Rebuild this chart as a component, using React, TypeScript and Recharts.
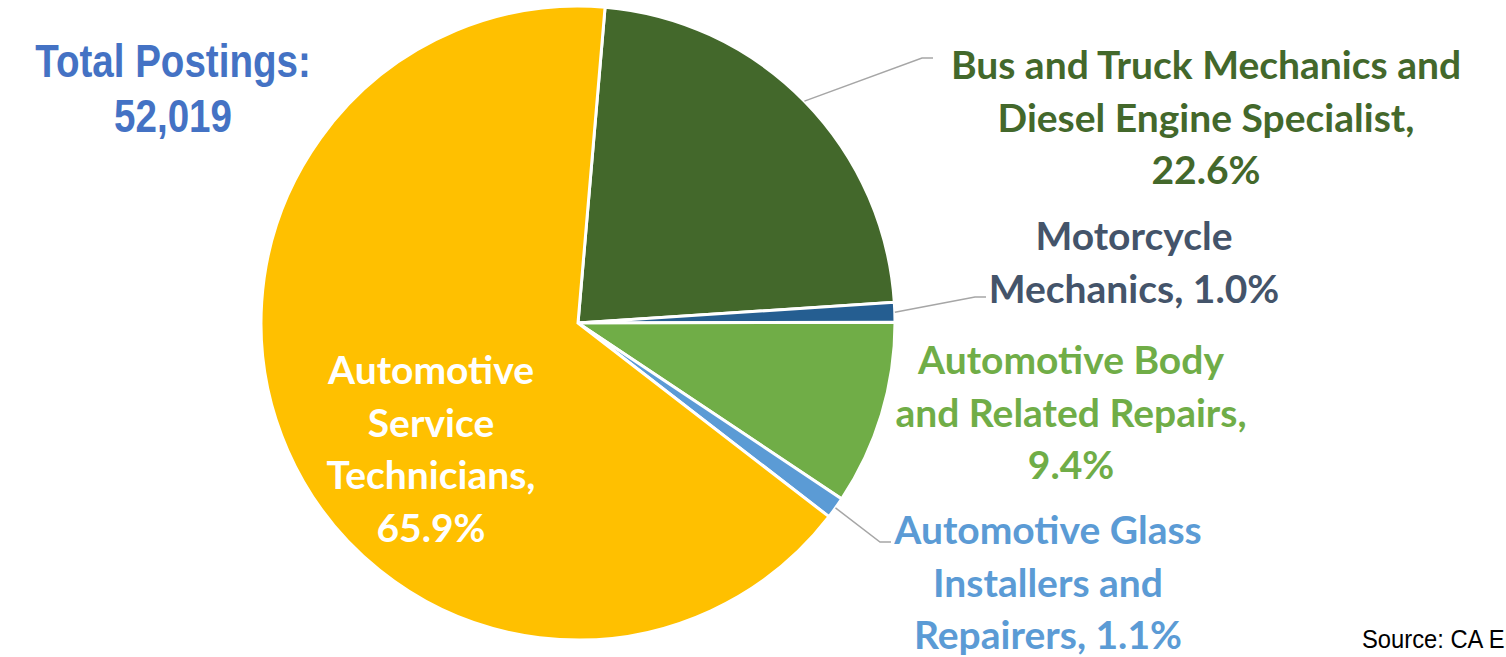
import React from "react";
import { PieChart, Pie, Cell } from "recharts";

// slices in clockwise order, starting just right of 12 o'clock
const categories = [
  "Bus and Truck Mechanics and Diesel Engine Specialist",
  "Motorcycle Mechanics",
  "Automotive Body and Related Repairs",
  "Automotive Glass Installers and Repairers",
  "Automotive Service Technicians",
];
const shares = [22.6, 1.0, 9.4, 1.1, 65.9];
const nameLines = [
  ["Bus and Truck Mechanics and", "Diesel Engine Specialist"],
  ["Motorcycle", "Mechanics"],
  ["Automotive Body", "and Related Repairs"],
  ["Automotive Glass", "Installers and", "Repairers"],
  ["Automotive", "Service", "Technicians"],
];
const pctOnOwnLine = [true, false, true, false, true];
const totalPostings = 52019;

const SLICE_COLORS = ["#43682B", "#255E91", "#70AD47", "#5B9BD5", "#FFC000"];
const LABEL_COLORS = ["#43682B", "#44546A", "#70AD47", "#5B9BD5", "#FFFFFF"];

// label placement relative to pie centre; elbow = leader line bend point
const LABEL_LAYOUT = [
  { dx: 628, dy: -259, elbow: [344, -265] },
  { dx: 556, dy: -88, elbow: [397, -26] },
  { dx: 493, dy: 36, elbow: null },
  { dx: 470, dy: 206, elbow: [302, 219] },
  { dx: -147, dy: 46, elbow: null },
];
const LINE_H = 52.5;
const RAD = Math.PI / 180;

const data = categories.map((name, i) => ({ name, value: shares[i] }));

function labelLinesFor(i: number) {
  const names = nameLines[i];
  const pct = `${shares[i].toFixed(1)}%`;
  const head = names.slice(0, -1);
  const last = names[names.length - 1];
  return pctOnOwnLine[i] ? [...head, last + ",", pct] : [...head, `${last}, ${pct}`];
}

function renderLabel(props: any) {
  const { cx, cy, midAngle, outerRadius, index } = props;
  const lay = LABEL_LAYOUT[index];
  const lines = labelLinesFor(index);
  const x = cx + lay.dx;
  let leader = null;
  if (lay.elbow) {
    const sx = cx + outerRadius * Math.cos(-midAngle * RAD);
    const sy = cy + outerRadius * Math.sin(-midAngle * RAD);
    const ex = cx + lay.elbow[0];
    const ey = cy + lay.elbow[1];
    leader = (
      <polyline
        points={`${sx},${sy} ${ex},${ey} ${ex + 11},${ey}`}
        fill="none"
        stroke="#A6A6A6"
        strokeWidth={1.5}
      />
    );
  }
  return (
    <g key={`lbl-${index}`}>
      {leader}
      {lines.map((ln, k) => (
        <text
          key={k}
          x={x}
          y={cy + lay.dy + k * LINE_H}
          textAnchor="middle"
          dominantBaseline="central"
          fill={LABEL_COLORS[index]}
          fontFamily="Lato, 'Open Sans', sans-serif"
          fontWeight={700}
          fontSize={39}
        >
          {ln}
        </text>
      ))}
    </g>
  );
}

export default function App() {
  return (
    <div
      style={{
        position: "absolute",
        left: 0,
        top: 0,
        width: 1506,
        height: 657,
        overflow: "hidden",
        background: "#fff",
      }}
    >
      <PieChart width={1506} height={657} margin={{ top: 0, right: 0, bottom: 0, left: 0 }}>
        <Pie
          data={data}
          dataKey="value"
          nameKey="name"
          cx={578}
          cy={323}
          outerRadius={317}
          startAngle={85.1}
          endAngle={-274.9}
          stroke="#FFFFFF"
          strokeWidth={3}
          label={renderLabel}
          labelLine={false}
          isAnimationActive={false}
        >
          {data.map((entry, index) => (
            <Cell key={`cell-${index}`} fill={SLICE_COLORS[index]} />
          ))}
        </Pie>
      </PieChart>

      {/* total postings callout, top left (narrow bold face squeezed horizontally) */}
      <div
        style={{
          position: "absolute",
          left: -27,
          top: 33,
          width: 400,
          whiteSpace: "nowrap",
          textAlign: "center",
          color: "#4472C4",
          fontFamily: "'Liberation Sans', Arial, sans-serif",
          fontWeight: 700,
          fontSize: 47,
          lineHeight: "55px",
          transform: "scaleX(0.82)",
          transformOrigin: "200px 0",
        }}
      >
        <div>Total Postings:</div>
        <div>{totalPostings.toLocaleString("en-US")}</div>
      </div>

      <div
        style={{
          position: "absolute",
          left: 1362,
          top: 625,
          whiteSpace: "nowrap",
          color: "#000",
          fontFamily: "'Liberation Sans', Arial, sans-serif",
          fontSize: 25,
          transform: "scaleX(0.95)",
          transformOrigin: "0 0",
        }}
      >
        Source: CA EDD
      </div>
    </div>
  );
}
